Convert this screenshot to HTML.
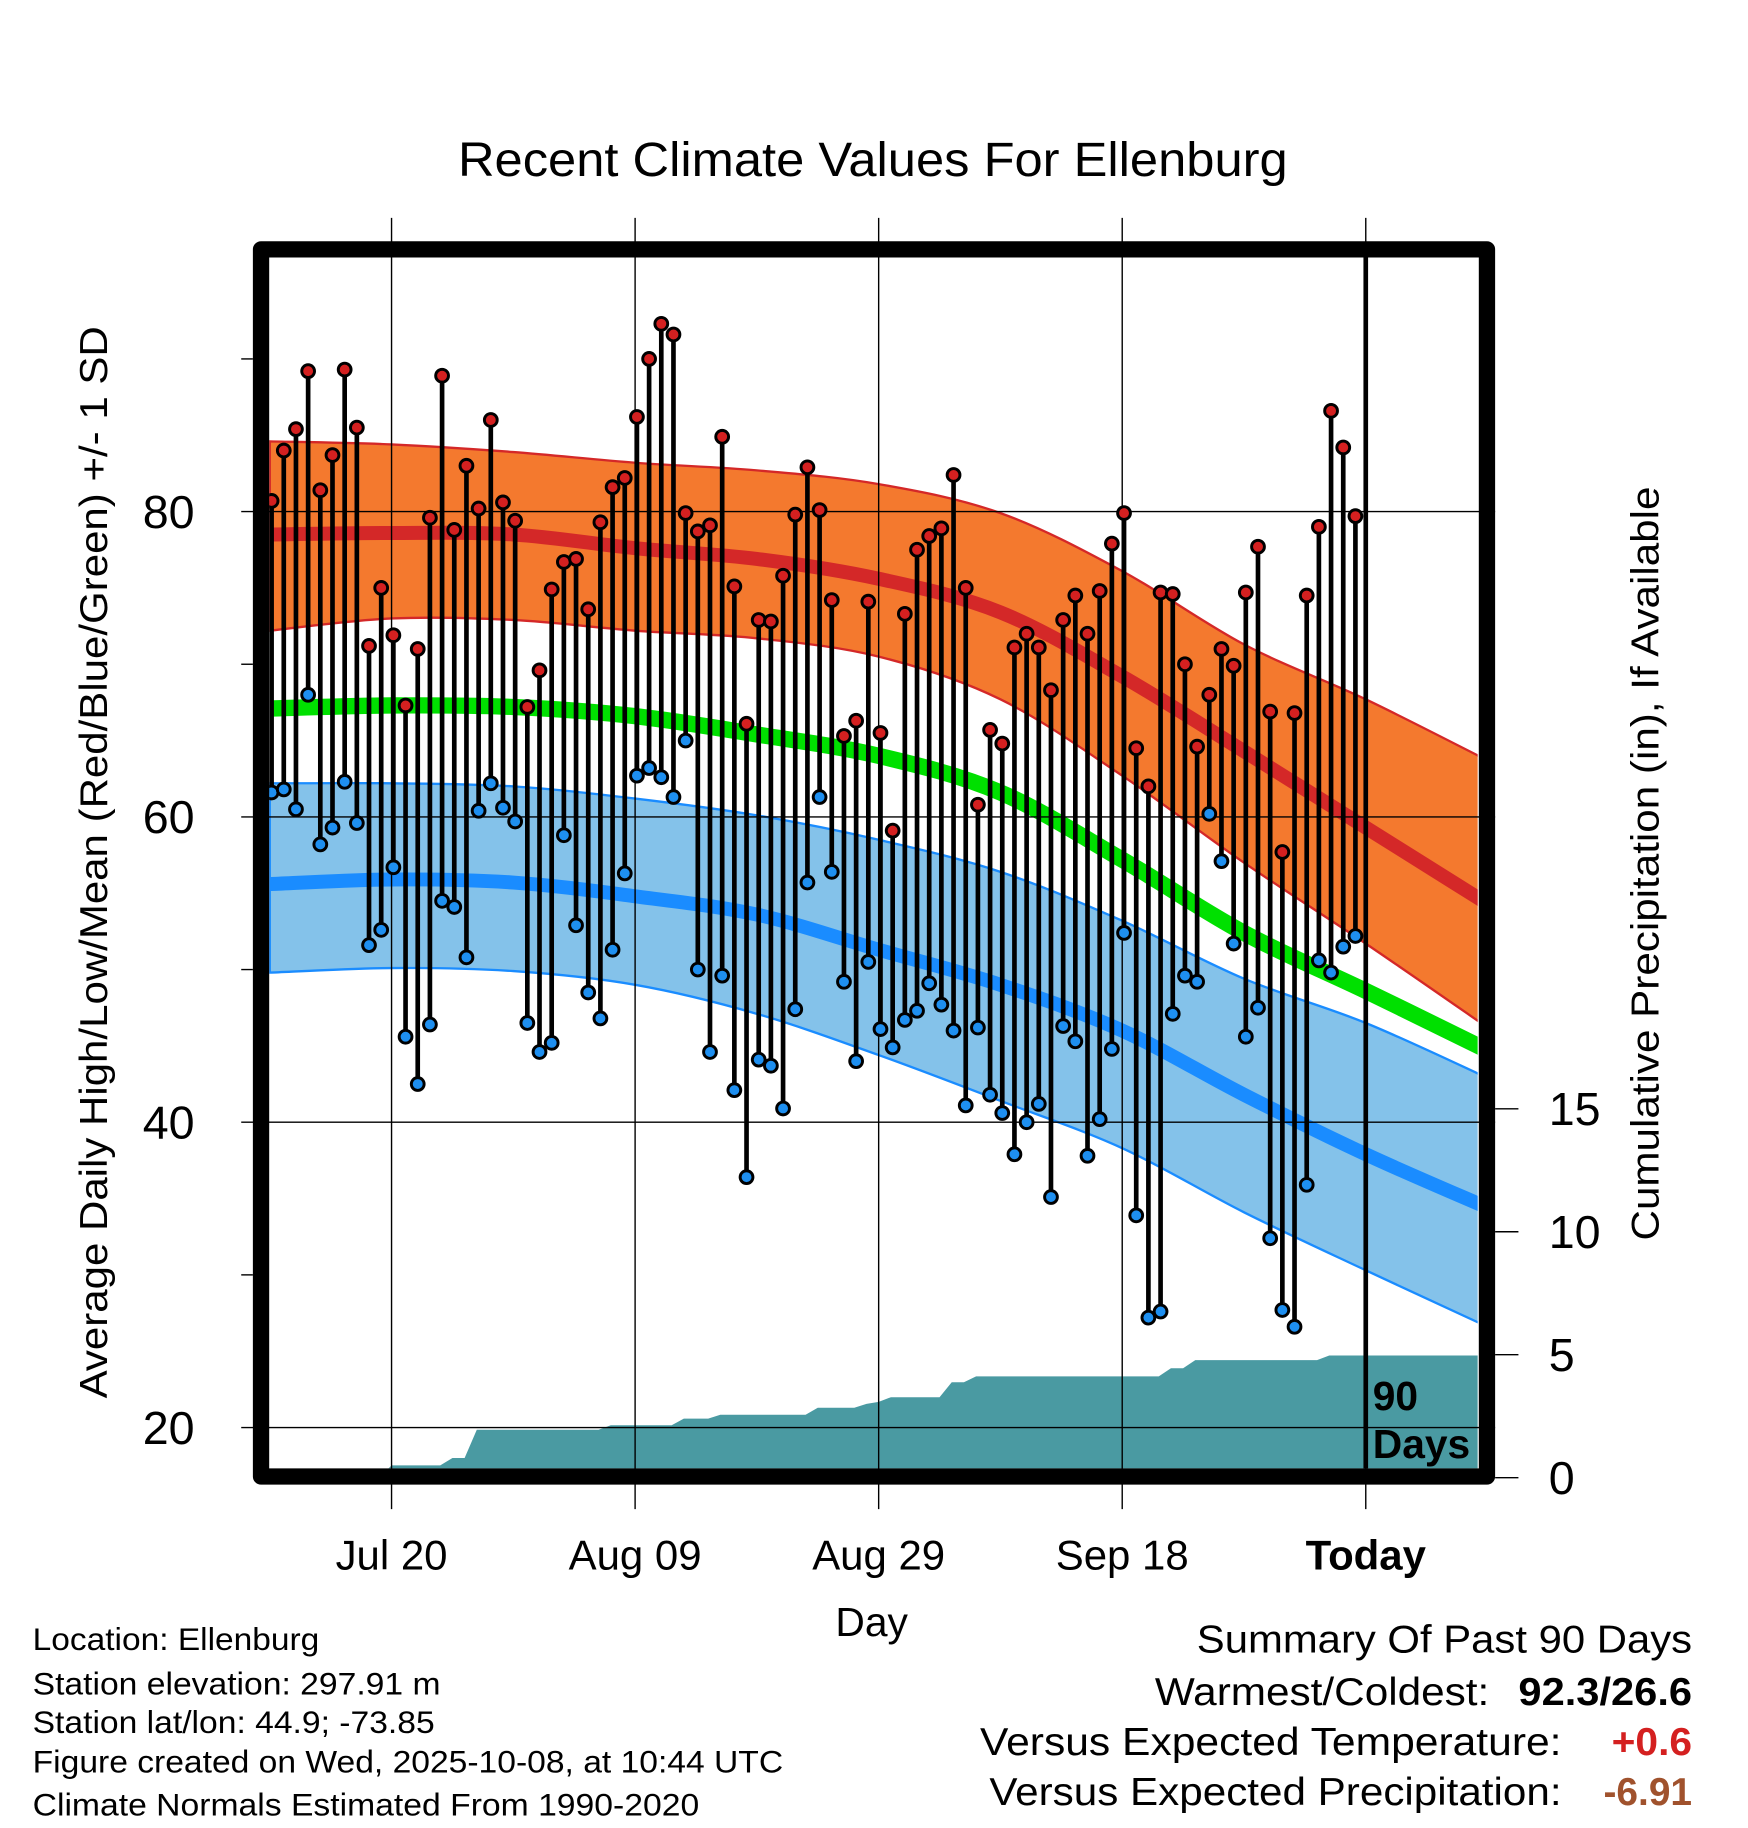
<!DOCTYPE html>
<html><head><meta charset="utf-8"><style>
html,body{margin:0;padding:0;background:#fff;}
svg{display:block;font-family:"Liberation Sans",Arial,sans-serif;}
</style></head><body>
<svg id="chart" width="1748" height="1828" viewBox="0 0 1500 1568.65" xmlns="http://www.w3.org/2000/svg">
<defs><clipPath id="plotclip"><rect x="231" y="221" width="1037" height="1039"/></clipPath></defs>
<g id="bands" clip-path="url(#plotclip)"></g>
<g id="grid"></g>
<g id="marks" clip-path="url(#plotclip)"></g>
<g id="frame"></g>
<text x="393" y="151" font-size="41" textLength="712" lengthAdjust="spacingAndGlyphs">Recent Climate Values For Ellenburg</text>
<text transform="translate(92,740) rotate(-90)" font-size="33" text-anchor="middle" textLength="920" lengthAdjust="spacingAndGlyphs">Average Daily High/Low/Mean (Red/Blue/Green) +/- 1 SD</text>
<text transform="translate(1423,741) rotate(-90)" font-size="33" text-anchor="middle" textLength="647" lengthAdjust="spacingAndGlyphs">Cumulative Precipitation (in), If Available</text>
<text x="748" y="1404" font-size="35" text-anchor="middle">Day</text>
<text x="1178" y="1210" font-size="35" font-weight="bold">90</text>
<text x="1178" y="1251" font-size="35" font-weight="bold">Days</text>
<g font-size="27" lengthAdjust="spacingAndGlyphs">
<text x="28" y="1416" textLength="246" lengthAdjust="spacingAndGlyphs">Location: Ellenburg</text>
<text x="28" y="1454" textLength="350" lengthAdjust="spacingAndGlyphs">Station elevation: 297.91 m</text>
<text x="28" y="1487" textLength="345" lengthAdjust="spacingAndGlyphs">Station lat/lon: 44.9; -73.85</text>
<text x="28" y="1521" textLength="644" lengthAdjust="spacingAndGlyphs">Figure created on Wed, 2025-10-08, at 10:44 UTC</text>
<text x="28" y="1558" textLength="572" lengthAdjust="spacingAndGlyphs">Climate Normals Estimated From 1990-2020</text>
</g>
<g font-size="33" text-anchor="end">
<text x="1452" y="1418" textLength="425" lengthAdjust="spacingAndGlyphs">Summary Of Past 90 Days</text>
<text x="1278" y="1463" textLength="287" lengthAdjust="spacingAndGlyphs">Warmest/Coldest:</text>
<text x="1452" y="1463" font-weight="bold" textLength="149" lengthAdjust="spacingAndGlyphs">92.3/26.6</text>
<text x="1340" y="1506" textLength="499" lengthAdjust="spacingAndGlyphs">Versus Expected Temperature:</text>
<text x="1452" y="1506" font-weight="bold" fill="#d42020" textLength="69" lengthAdjust="spacingAndGlyphs">+0.6</text>
<text x="1340" y="1549" textLength="491" lengthAdjust="spacingAndGlyphs">Versus Expected Precipitation:</text>
<text x="1452" y="1549" font-weight="bold" fill="#a0522d" textLength="76" lengthAdjust="spacingAndGlyphs">-6.91</text>
</g>
</svg>
<script>
const highs=[80.7,84,85.4,89.2,81.4,83.7,89.3,85.5,71.2,75,71.9,67.3,71,79.6,88.9,78.8,83,80.2,86,80.6,79.4,67.2,69.6,74.9,76.7,76.9,73.6,79.3,81.6,82.2,86.2,90,92.3,91.6,79.9,78.7,79.1,84.9,75.1,66.1,72.9,72.8,75.8,79.8,82.9,80.1,74.2,65.3,66.3,74.1,65.5,59.1,73.3,77.5,78.4,78.9,82.4,75,60.8,65.7,64.8,71.1,72,71.1,68.3,72.9,74.5,72,74.8,77.9,79.9,64.5,62,74.7,74.6,70,64.6,68,71,69.9,74.7,77.7,66.9,57.7,66.8,74.5,79,86.6,84.2,79.7];
const lows=[61.6,61.8,60.5,68,58.2,59.3,62.3,59.6,51.6,52.6,56.7,45.6,42.5,46.4,54.5,54.1,50.8,60.4,62.2,60.6,59.7,46.5,44.6,45.2,58.8,52.9,48.5,46.8,51.3,56.3,62.7,63.2,62.6,61.3,65,50,44.6,49.6,42.1,36.4,44.1,43.7,40.9,47.4,55.7,61.3,56.4,49.2,44,50.5,46.1,44.9,46.7,47.3,49.1,47.7,46,41.1,46.2,41.8,40.6,37.9,40,41.2,35.1,46.3,45.3,37.8,40.2,44.8,52.4,33.9,27.2,27.6,47.1,49.6,49.2,60.2,57.1,51.7,45.6,47.5,32.4,27.7,26.6,35.9,50.6,49.8,51.5,52.2];
const precip=[0,0,0,0,0,0,0,0,0,0,0.5,0.5,0.5,0.5,0.5,0.8,0.8,1.95,1.95,1.95,1.95,1.95,1.95,1.95,1.95,1.95,1.95,1.95,2.13,2.13,2.13,2.13,2.13,2.13,2.4,2.4,2.4,2.56,2.56,2.56,2.56,2.56,2.56,2.56,2.56,2.84,2.84,2.84,2.84,3.0,3.08,3.27,3.27,3.27,3.27,3.27,3.88,3.88,4.12,4.12,4.12,4.12,4.12,4.12,4.12,4.12,4.12,4.12,4.12,4.12,4.12,4.12,4.12,4.12,4.45,4.45,4.78,4.78,4.78,4.78,4.78,4.78,4.78,4.78,4.78,4.78,4.78,4.97,4.97,4.97];
// normals at 10-day anchors (day index 0,10,...,100)
const normHigh=[78.5,78.6,78.5,77.6,76.9,75.6,73.4,69.2,64.3,59.3,54.3];
const normHighUp=[84.6,84.4,83.9,83.2,82.7,81.8,79.9,76.1,71.3,67.7,63.7];
const normHighLo=[72.2,73.0,72.9,72.2,71.7,70.5,67.7,62.7,57.0,51.7,46.2];
const normMean=[67.1,67.3,67.2,66.6,65.4,64.0,61.6,57.2,52.4,48.6,44.7];
const normLow=[55.6,55.9,55.7,54.8,53.6,51.3,49.0,46.0,41.8,37.9,34.4];
const normLowUp=[62.2,62.2,62.0,61.2,60.1,58.5,56.4,53.2,49.4,46.5,42.9];
const normLowLo=[49.8,50.1,49.9,49.0,47.1,44.4,41.4,38.3,34.1,30.3,26.6];
const yTicks=[20,40,60,80];
const yMinor=[30,50,70,90];
const pTicks=[0,5,10,15];
const xTickDays=[10,30,50,70,90];
const xTickLabels=["Jul 20","Aug 09","Aug 29","Sep 18","Today"];

const NS="http://www.w3.org/2000/svg";
const X=d=>231.5+d*10.45;
const Y=v=>439+(80-v)*13.1;
const P=p=>1268-p*21.1;
function el(tag,attrs,parent){const e=document.createElementNS(NS,tag);for(const k in attrs)e.setAttribute(k,attrs[k]);parent.appendChild(e);return e;}
function smooth(pts){let d="M"+pts[0][0]+","+pts[0][1];for(let i=0;i<pts.length-1;i++){const p0=pts[Math.max(0,i-1)],p1=pts[i],p2=pts[i+1],p3=pts[Math.min(pts.length-1,i+2)];const c1=[p1[0]+(p2[0]-p0[0])/6,p1[1]+(p2[1]-p0[1])/6],c2=[p2[0]-(p3[0]-p1[0])/6,p2[1]-(p3[1]-p1[1])/6];d+=" C"+c1+" "+c2+" "+p2;}return d;}
const anchorPts=arr=>arr.map((v,i)=>[X(i*10),Y(v)]);
function bandPath(up,lo){const a=anchorPts(up),b=anchorPts(lo).reverse();return smooth(a)+" L"+smooth(b).slice(1)+" Z";}

const bands=document.getElementById('bands');
let e;
e=el('path',{d:bandPath(normHighUp,normHighLo),fill:'#f4792e',stroke:'#d42828','stroke-width':2},bands);


e=el('path',{d:smooth(anchorPts(normHigh)),fill:'none',stroke:'#d42828','stroke-width':12},bands);


e=el('path',{d:bandPath(normLowUp,normLowLo),fill:'#84c2ea',stroke:'#1a8cff','stroke-width':2},bands);


e=el('path',{d:smooth(anchorPts(normLow)),fill:'none',stroke:'#1a8cff','stroke-width':12},bands);


e=el('path',{d:smooth(anchorPts(normMean)),fill:'none',stroke:'#00e000','stroke-width':14},bands);


let pd="M"+X(0)+","+P(0);
precip.forEach((p,i)=>{pd+=" L"+X(i)+","+P(p);});
pd+=" L"+X(90)+","+P(precip[precip.length-1])+" L1280,"+P(precip[precip.length-1])+" L1280,"+P(0)+" Z";
e=el('path',{d:pd,fill:'#4a9aa2'},bands);



const grid=document.getElementById('grid');
yTicks.forEach(v=>{
 e=el('line',{x1:207,x2:1283,y1:Y(v),y2:Y(v),stroke:'#000','stroke-width':1.2},grid);
 
 
 e=el('text',{x:167,y:Y(v)+14,'font-size':40,'text-anchor':'end'},grid);e.textContent=v;
 
 
});
yMinor.forEach(v=>{
 e=el('line',{x1:207,x2:217,y1:Y(v),y2:Y(v),stroke:'#000','stroke-width':1.2},grid);
 
 
});
pTicks.forEach(v=>{
 e=el('line',{x1:1283,x2:1303,y1:P(v),y2:P(v),stroke:'#000','stroke-width':1.2},grid);
 
 
 e=el('text',{x:1329,y:P(v)+14,'font-size':40},grid);e.textContent=v;
 
 
});
xTickDays.forEach((d,i)=>{
 e=el('line',{x1:X(d),x2:X(d),y1:187,y2:1295,stroke:'#000','stroke-width':1.2},grid);
 
 
 e=el('text',{x:X(d),y:1347,'font-size':36,'text-anchor':'middle','font-weight':i==4?'bold':'normal'},grid);e.textContent=xTickLabels[i];
 
 
});

const marks=document.getElementById('marks');
highs.forEach((h,i)=>{
 e=el('line',{x1:X(i+0.15),x2:X(i+0.15),y1:Y(h),y2:Y(lows[i]),stroke:'#000','stroke-width':4},marks);
 
 
});
highs.forEach((h,i)=>{
 e=el('circle',{cx:X(i+0.15),cy:Y(h),r:5.5,fill:'#d42020',stroke:'#000','stroke-width':2.5},marks);
 
 
 e=el('circle',{cx:X(i+0.15),cy:Y(lows[i]),r:5.5,fill:'#1e8ff0',stroke:'#000','stroke-width':2.5},marks);
 
 
});
const frame=document.getElementById('frame');
e=el('line',{x1:X(90),x2:X(90),y1:221,y2:1260,stroke:'#000','stroke-width':4},frame);


e=el('rect',{x:224,y:214,width:1052,height:1053,fill:'none',stroke:'#000','stroke-width':14,'stroke-linejoin':'round'},frame);


</script>
</body></html>
